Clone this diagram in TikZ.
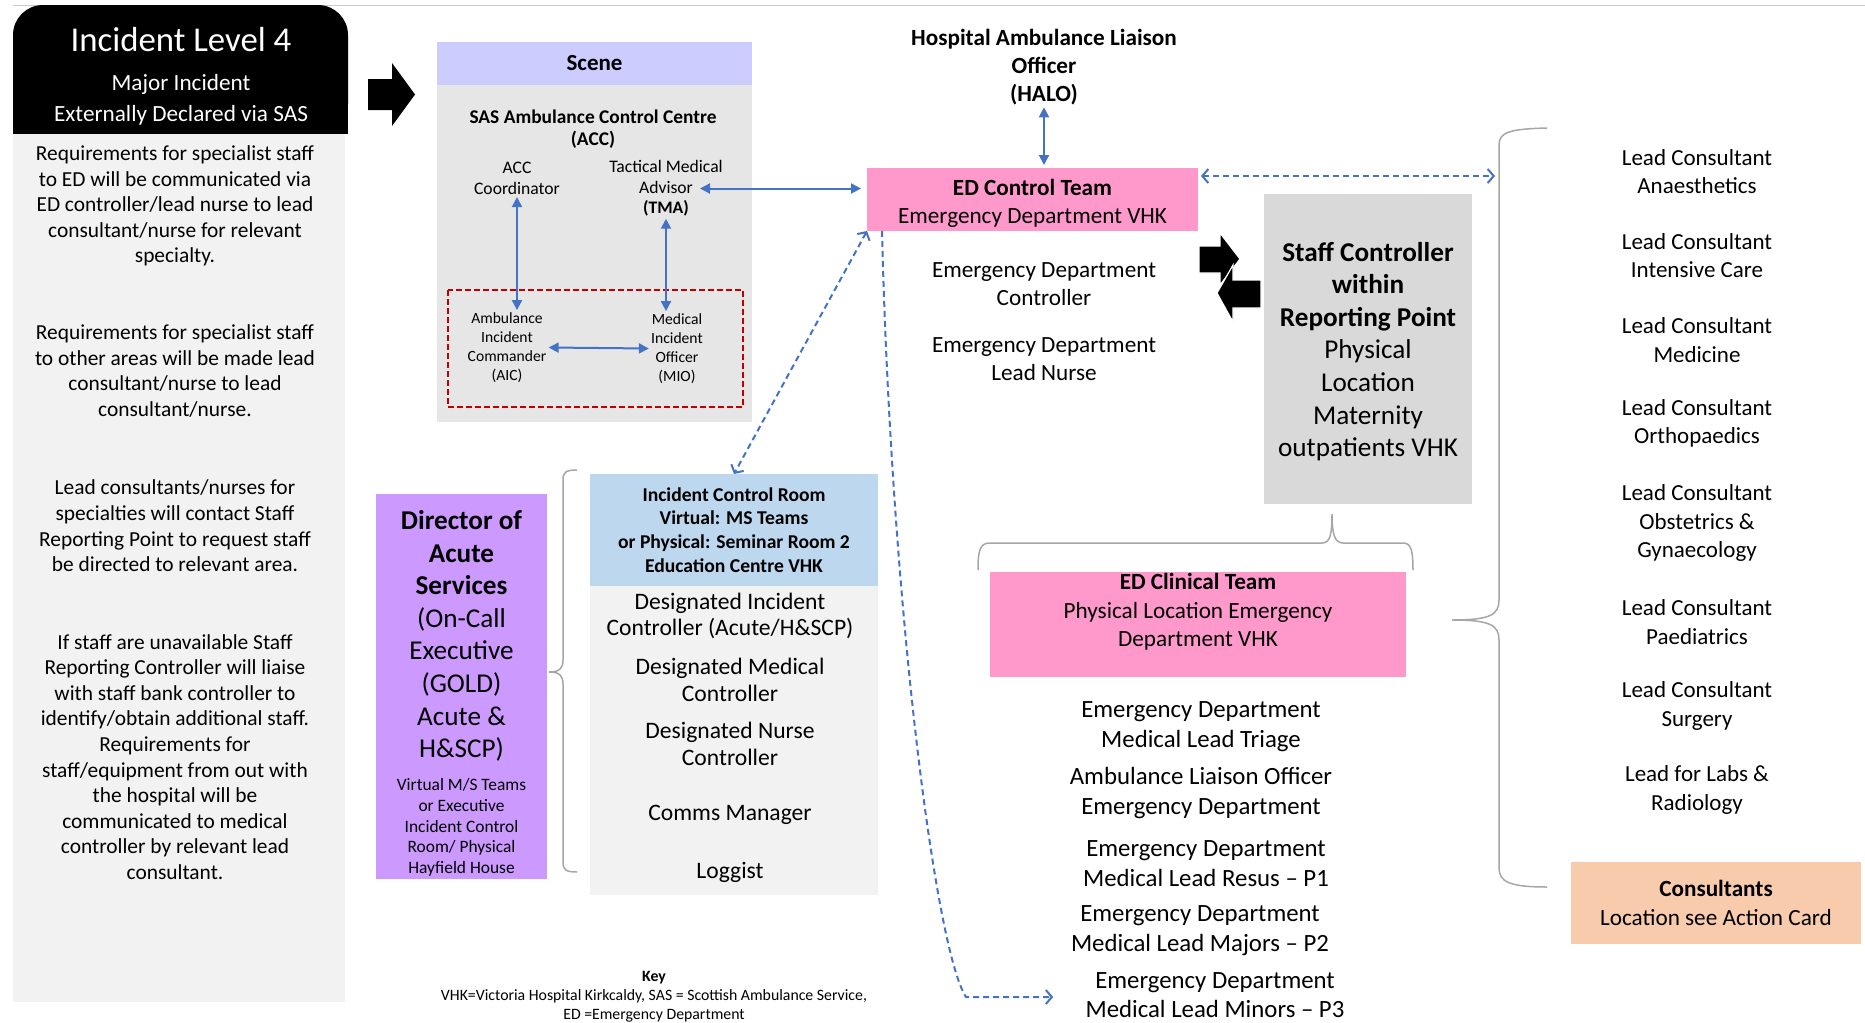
\documentclass[tikz,border=0pt]{standalone}
\usepackage{fontspec}
\setmainfont{Carlito}
\usetikzlibrary{arrows.meta}

\definecolor{edpink}{HTML}{FF99CC}
\definecolor{scenehead}{HTML}{CCCCFF}
\definecolor{scenebody}{HTML}{E7E6E6}
\definecolor{panelgrey}{HTML}{F2F2F2}
\definecolor{staffgrey}{HTML}{D9D9D9}
\definecolor{goldpurple}{HTML}{CC99FF}
\definecolor{icrblue}{HTML}{BDD7EE}
\definecolor{consorange}{HTML}{F8CBAD}
\definecolor{linkblue}{HTML}{4472C4}
\definecolor{cordonred}{HTML}{C00000}
\definecolor{bracegrey}{HTML}{A6A6A6}

\newcommand{\fsz}[2]{\fontsize{#1}{#2}\selectfont}

\begin{document}
\begin{tikzpicture}[x=0.5pt, y=-0.5pt,
  box/.style={inner sep=0pt, outer sep=0pt},
  lbl/.style={align=center, inner sep=1pt},
  link/.style={<->, linkblue, line width=1pt, >={Triangle[length=5pt,width=5pt]}},
  dashlink/.style={linkblue, line width=1pt, dash pattern=on 3pt off 2pt,
    >={Straight Barb[length=3pt,width=7pt]}},
  bracket/.style={bracegrey, line width=0.75pt},
  bigarrow/.style={fill=black},
  pairarrow/.style={fill=black, draw=white, line width=0.6pt},
]
\useasboundingbox (0,0) rectangle (1865,1023);

% ---------- left column: level banner and notes ----------
\draw[gray!40, line width=0.5pt] (13,5) -- (1865,5);
\fill[black, rounded corners=15pt] (13,5) rectangle (348,134);
\fill[black] (13,60) rectangle (348,134);
\fill[panelgrey] (13,134) rectangle (345,1002);

\node[lbl, white, font=\fsz{17.4}{20}] (level) at (181,40) {Incident Level 4};
\node[lbl, white, font=\fsz{11.6}{15.5}] (declared) at (181,99.5)
  {Major Incident\\Externally Declared via SAS};

\node[lbl, font=\fsz{10.7}{12.8}] (noteed) at (175,206)
  {Requirements for specialist staff\\to ED will be communicated via\\ED controller/lead nurse to lead\\consultant/nurse for relevant\\specialty.};
\node[lbl, font=\fsz{10.7}{12.8}] (noteareas) at (175,371)
  {Requirements for specialist staff\\to other areas will be made lead\\consultant/nurse to lead\\consultant/nurse.};
\node[lbl, font=\fsz{10.7}{12.8}] (notecontact) at (175,526)
  {Lead consultants/nurses for\\specialties will contact Staff\\Reporting Point to request staff\\be directed to relevant area.};
\node[lbl, font=\fsz{10.7}{12.8}] (notebank) at (175,757)
  {If staff are unavailable Staff\\Reporting Controller will liaise\\with staff bank controller to\\identify/obtain additional staff.\\Requirements for\\staff/equipment from out with\\the hospital will be\\communicated to medical\\controller by relevant lead\\consultant.};

\fill[bigarrow] (368,79) -- (392,79) -- (392,63) -- (415,94.5) -- (392,126) -- (392,110) -- (368,110) -- cycle;

% ---------- scene ----------
\node[box, fill=scenehead, minimum width=157.5pt, minimum height=21.5pt,
  font=\bfseries\fsz{11.5}{13}] (scene) at (594.5,63.5) {Scene};
\node[box, fill=scenebody, minimum width=157.5pt, minimum height=168.5pt,
  anchor=north] (scenebody) at (scene.south) {};
\node[lbl, font=\bfseries\fsz{9.7}{11}] (acc) at (593,129)
  {SAS Ambulance Control Centre\\(ACC)};
\node[lbl, font=\fsz{8.8}{10.4}] (acccoord) at (517,178.5) {ACC\\Coordinator};
\node[lbl, font=\fsz{8.8}{10.2}] (tma) at (666,188.5)
  {Tactical Medical\\Advisor\\\textbf{(TMA)}};
\draw[cordonred, line width=1.2pt, dash pattern=on 3pt off 1.5pt] (448,290) rectangle (743,407);
\node[lbl, font=\fsz{7.8}{9.5}] (aic) at (507,347.5)
  {Ambulance\\Incident\\Commander\\(AIC)};
\node[lbl, font=\fsz{7.8}{9.5}] (mio) at (677,348.5)
  {Medical\\Incident\\Officer\\(MIO)};

% ---------- ED control ----------
\node[lbl, font=\bfseries\fsz{11.6}{14}] (halo) at (1044,67)
  {Hospital Ambulance Liaison\\Officer\\(HALO)};
\node[box, fill=edpink, minimum width=165.5pt, minimum height=31.5pt] (edctl) at (1032.5,199.5) {};
\node[lbl, font=\fsz{11.6}{14.3}] (edctltext) at (1032.5,203.5)
  {\textbf{ED Control Team}\\Emergency Department VHK};
\node[lbl, font=\fsz{11.6}{14}] (edcontroller) at (1044,284)
  {Emergency Department\\Controller};
\node[lbl, font=\fsz{11.6}{14}] (edleadnurse) at (1044,359)
  {Emergency Department\\Lead Nurse};

% ---------- staff reporting point ----------
\node[box, fill=staffgrey, minimum width=104pt, minimum height=155pt] (staff) at (1368,349) {};
\node[lbl, font=\fsz{13.6}{16.3}] (stafftext) at (1368,351.5)
  {\textbf{Staff Controller}\\\textbf{within}\\\textbf{Reporting Point}\\Physical\\Location\\Maternity\\outpatients VHK};
\filldraw[pairarrow] (1199,246) -- (1220,246) -- (1220,233) -- (1240,259) -- (1220,285) -- (1220,273) -- (1199,273) -- cycle;
\filldraw[pairarrow] (1261,280) -- (1233,280) -- (1233,265) -- (1217,293) -- (1233,322) -- (1233,308) -- (1261,308) -- cycle;

% ---------- ED clinical team ----------
\draw[bracket] (978,570) .. controls (978,550) and (980,543) .. (990,543) -- (1322,543)
  .. controls (1330,543) and (1332,535) .. (1332,514)
  .. controls (1332,535) and (1335,543) .. (1343,543) -- (1403,543)
  .. controls (1411,543) and (1413,550) .. (1413,570);
\node[box, fill=edpink, minimum width=208pt, minimum height=52.5pt] (edclin) at (1198,624.5) {};
\node[lbl, font=\fsz{11.6}{14.2}] (edclintext) at (1198,612)
  {\textbf{ED Clinical Team}\\Physical Location Emergency\\Department VHK};
\node[lbl, font=\fsz{12.4}{15}] (triage) at (1201,727) {Emergency Department\\Medical Lead Triage};
\node[lbl, font=\fsz{12.4}{15}] (liaison) at (1201,793.5) {Ambulance Liaison Officer\\Emergency Department};
\node[lbl, font=\fsz{12.4}{15}] (resus) at (1206,864) {Emergency Department\\Medical Lead Resus – P1};
\node[lbl, font=\fsz{12.4}{15}] (majors) at (1200,931) {Emergency Department\\Medical Lead Majors – P2};
\node[lbl, font=\fsz{12.4}{14.4}, inner sep=0pt] (minors) at (1215,995) {Emergency Department\\Medical Lead Minors – P3};

% ---------- lead consultants ----------
\coordinate (leadbrace) at (1499,620);
\draw[bracket] (1547,128) .. controls (1510,129) and (1499,132) .. (1499,145) -- (1499,600)
  .. controls (1499,615) and (1490,620) .. (1452,620)
  .. controls (1490,620) and (1499,625) .. (1499,640) -- (1499,868)
  .. controls (1499,882) and (1510,887) .. (1547,887);
\foreach \nm/\yy/\txt in {anaes/171.5/{Lead Consultant\\Anaesthetics},
    icu/255.5/{Lead Consultant\\Intensive Care},
    medicine/340/{Lead Consultant\\Medicine},
    ortho/423.5/{Lead Consultant\\Orthopaedics},
    obgyn/523/{Lead Consultant\\Obstetrics \&\\Gynaecology},
    paeds/622/{Lead Consultant\\Paediatrics},
    surgery/706/{Lead Consultant\\Surgery},
    labs/790/{Lead for Labs \&\\Radiology}}
  \node[lbl, font=\fsz{11.5}{14.25}] (\nm) at (1697,\yy) {\txt};
\node[box, fill=consorange, minimum width=145pt, minimum height=41pt, align=center,
  font=\fsz{11.6}{14.5}] (consult) at (1716,903)
  {\textbf{Consultants}\\Location see Action Card};

% ---------- gold and incident control room ----------
\node[box, fill=goldpurple, minimum width=85.5pt, minimum height=192.5pt] (director) at (461.5,686.5) {};
\node[lbl, font=\fsz{13.6}{16.3}] (goldtitle) at (461.5,636)
  {\textbf{Director of}\\\textbf{Acute}\\\textbf{Services}\\(On-Call\\Executive\\(GOLD)\\Acute \&\\H\&SCP)};
\node[lbl, font=\fsz{8.7}{10.4}] (goldroom) at (461.5,827.5)
  {Virtual M/S Teams\\or Executive\\Incident Control\\Room/ Physical\\Hayfield House};
\draw[bracket] (577,470) .. controls (566,470) and (563,472) .. (563,480) -- (563,660)
  .. controls (563,668) and (560,672) .. (549,672)
  .. controls (560,672) and (563,676) .. (563,684) -- (563,862)
  .. controls (563,870) and (566,872) .. (577,872);

\node[box, fill=icrblue, minimum width=144pt, minimum height=56pt, align=center,
  font=\bfseries\fsz{9.8}{11.85}] (icr) at (734,530)
  {Incident Control Room\\Virtual: MS Teams\\or Physical: Seminar Room 2\\Education Centre VHK};
\node[box, fill=panelgrey, minimum width=144pt, minimum height=154.5pt, anchor=north] (icrbody) at (icr.south) {};
\node[lbl, font=\fsz{11.8}{13.3}] (dic) at (730,616) {Designated Incident\\Controller (Acute/H\&SCP)};
\node[lbl, font=\fsz{11.8}{13.3}] (dmc) at (730,680) {Designated Medical\\Controller};
\node[lbl, font=\fsz{11.8}{13.3}] (dnc) at (730,744) {Designated Nurse\\Controller};
\node[lbl, font=\fsz{11.8}{13.3}] (comms) at (730,815) {Comms Manager};
\node[lbl, font=\fsz{11.8}{13.3}] (loggist) at (730,872) {Loggist};

\node[lbl, font=\fsz{7.9}{9.4}, inner sep=0pt] (key) at (654,997)
  {\textbf{Key}\\VHK=Victoria Hospital Kirkcaldy, SAS = Scottish Ambulance Service,\\ED =Emergency Department};

% ---------- connectors ----------
\draw[link] (acccoord.south) -- (acccoord.south |- aic.north);
\draw[link] (tma.south) -- (tma.south |- mio.north);
\draw[link] (aic.east) -- (mio.west);
\draw[link, shorten >=3pt] ([xshift=17pt]tma.center) -- (tma.center -| edctl.west);
\draw[link, shorten >=1.5pt] (halo.south) -- (halo.south |- edctl.north);
\draw[dashlink, <->] (edctl.south west) -- (icr.north);
\draw[dashlink, ->, shorten >=16pt] ([xshift=7.5pt]edctl.south west)
  .. controls (891,600) and (935,950) .. (966,997) -- (minors.west |- 0,997);
\draw[dashlink, <->, shorten <=1.5pt, shorten >=2pt] ([yshift=11.75pt]edctl.east)
  -- ([yshift=11.75pt]edctl.east -| leadbrace);

\end{tikzpicture}
\end{document}
